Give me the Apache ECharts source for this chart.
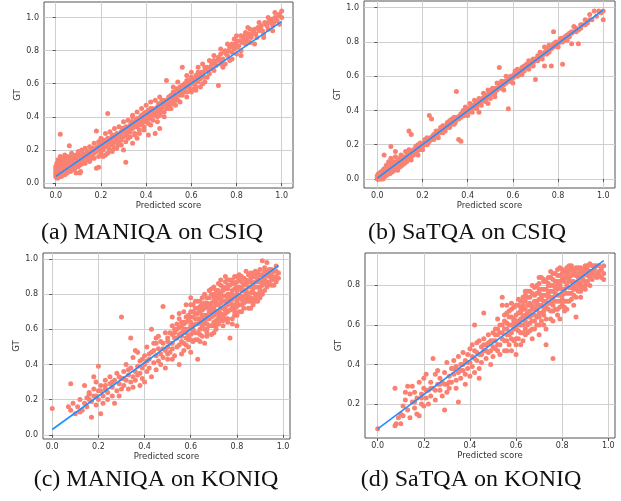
<!DOCTYPE html>
<html>
<head>
<meta charset="utf-8">
<script src="https://cdn.jsdelivr.net/npm/echarts@6/dist/echarts.min.js"></script>
<style>
  html, body { margin: 0; padding: 0; background: #fff; }
  #chart { width: 621px; height: 501px; }
</style>
</head>
<body>
<div id="chart"></div>
<script>
// (a) MANIQA on CSIQ: [predicted, GT]
const maniqaCsiq = [
  [0.0,0.04],[0.0,0.07],[0.0,0.1],[0.005,0.05],[0.005,0.12],[0.01,0.03],[0.01,0.08],[0.01,0.14],[0.015,0.06],[0.015,0.1],
  [0.02,0.05],[0.02,0.12],[0.02,0.16],[0.025,0.08],[0.025,0.11],[0.03,0.06],[0.03,0.13],[0.03,0.15],[0.035,0.09],[0.04,0.07],
  [0.04,0.12],[0.04,0.17],[0.045,0.1],[0.05,0.06],[0.05,0.14],[0.05,0.16],[0.055,0.09],[0.06,0.11],[0.06,0.15],[0.065,0.07],
  [0.07,0.13],[0.07,0.18],[0.075,0.1],[0.08,0.08],[0.08,0.15],[0.085,0.12],[0.09,0.06],[0.09,0.17],[0.095,0.14],[0.1,0.1],
  [0.1,0.19],[0.105,0.13],[0.11,0.16],[0.11,0.07],[0.115,0.2],[0.02,0.295],[0.06,0.225],[0.18,0.09],[0.19,0.095],[0.107,0.06],
  [0.12,0.14],[0.12,0.18],[0.13,0.12],[0.13,0.21],[0.14,0.16],[0.14,0.19],[0.15,0.13],[0.15,0.22],[0.16,0.17],[0.16,0.2],
  [0.17,0.15],[0.17,0.24],[0.18,0.19],[0.18,0.21],[0.19,0.16],[0.19,0.25],[0.2,0.18],[0.2,0.23],[0.21,0.2],[0.21,0.26],
  [0.22,0.17],[0.22,0.24],[0.23,0.22],[0.23,0.27],[0.24,0.2],[0.24,0.25],[0.25,0.23],[0.25,0.29],[0.26,0.21],[0.26,0.27],
  [0.27,0.25],[0.27,0.3],[0.28,0.24],[0.28,0.28],[0.29,0.31],[0.29,0.26],[0.3,0.28],[0.3,0.33],[0.18,0.315],[0.23,0.42],
  [0.31,0.125],[0.3,0.2],[0.31,0.3],[0.31,0.34],[0.32,0.27],[0.32,0.32],[0.33,0.35],[0.33,0.31],[0.34,0.33],[0.34,0.37],
  [0.35,0.3],[0.35,0.36],[0.36,0.34],[0.36,0.39],[0.37,0.32],[0.37,0.37],[0.38,0.36],[0.38,0.41],[0.39,0.34],[0.39,0.39],
  [0.4,0.38],[0.4,0.43],[0.41,0.36],[0.41,0.41],[0.42,0.4],[0.42,0.45],[0.43,0.38],[0.43,0.43],[0.44,0.42],[0.44,0.3],
  [0.45,0.4],[0.45,0.46],[0.46,0.44],[0.46,0.41],[0.47,0.46],[0.47,0.5],[0.48,0.43],[0.48,0.48],[0.49,0.47],[0.49,0.62],
  [0.5,0.49],[0.5,0.45],[0.34,0.24],[0.41,0.29],[0.46,0.33],[0.34,0.4],[0.36,0.27],
  [0.51,0.5],[0.51,0.53],[0.52,0.48],[0.52,0.55],[0.53,0.52],[0.54,0.56],[0.54,0.5],[0.55,0.54],[0.55,0.58],[0.56,0.53],
  [0.56,0.7],[0.57,0.56],[0.57,0.6],[0.58,0.55],[0.58,0.62],[0.59,0.58],[0.6,0.6],[0.6,0.64],[0.61,0.57],[0.61,0.62],
  [0.62,0.65],[0.63,0.61],[0.63,0.67],[0.64,0.63],[0.65,0.66],[0.65,0.6],[0.66,0.68],[0.67,0.64],[0.67,0.7],[0.68,0.66],
  [0.69,0.72],[0.7,0.68],[0.7,0.74],[0.72,0.59],[0.62,0.58],
  [0.71,0.71],[0.72,0.76],[0.73,0.72],[0.73,0.78],[0.74,0.75],[0.75,0.8],[0.75,0.72],[0.76,0.77],[0.77,0.82],[0.77,0.74],
  [0.78,0.79],[0.78,0.84],[0.79,0.81],[0.8,0.86],[0.8,0.78],[0.81,0.83],[0.82,0.8],[0.83,0.87],[0.84,0.84],[0.84,0.91],
  [0.85,0.88],[0.86,0.85],[0.87,0.9],[0.88,0.93],[0.89,0.88],[0.9,0.92],[0.91,0.95],[0.92,0.9],[0.93,0.96],[0.94,0.93],
  [0.95,0.97],[0.96,0.95],[0.97,1.0],[0.98,0.98],[0.99,1.02],[1.0,1.0],[1.0,1.04],[0.97,1.03],[0.8,0.89],[0.85,0.94],
  [0.0,0.055],[0.0,0.085],[0.005,0.03],[0.005,0.09],[0.01,0.05],[0.01,0.11],[0.015,0.04],[0.015,0.13],[0.02,0.07],[0.02,0.09],
  [0.025,0.04],[0.025,0.14],[0.03,0.1],[0.035,0.05],[0.035,0.12],[0.04,0.05],[0.04,0.09],[0.045,0.13],[0.045,0.15],[0.05,0.08],
  [0.05,0.11],[0.055,0.12],[0.06,0.08],[0.06,0.13],[0.065,0.1],[0.065,0.16],[0.07,0.09],[0.075,0.12],[0.075,0.15],[0.08,0.11],
  [0.085,0.09],[0.085,0.16],[0.09,0.12],[0.095,0.1],[0.1,0.12],[0.1,0.15],[0.105,0.17],[0.11,0.11],[0.115,0.14],[0.12,0.16],
  [0.125,0.12],[0.13,0.17],[0.135,0.15],[0.14,0.14],[0.145,0.18],[0.15,0.17],[0.155,0.19],[0.16,0.15],[0.165,0.21],[0.17,0.18],
  [0.175,0.2],[0.185,0.22],[0.19,0.2],[0.195,0.23],[0.2,0.21],[0.205,0.25],[0.21,0.23],[0.215,0.22],[0.225,0.26],[0.23,0.24],
  [0.235,0.21],[0.245,0.27],[0.25,0.26],[0.255,0.24],[0.265,0.29],[0.27,0.27],[0.275,0.23],[0.285,0.3],[0.29,0.28],[0.295,0.33],
  [0.305,0.31],[0.315,0.29],[0.325,0.34],[0.33,0.33],[0.335,0.37],[0.345,0.35],[0.35,0.34],[0.355,0.38],[0.365,0.37],[0.37,0.35],
  [0.375,0.4],[0.385,0.38],[0.39,0.42],[0.395,0.37],[0.405,0.41],[0.41,0.44],[0.415,0.39],[0.425,0.42],[0.43,0.45],[0.435,0.41],
  [0.445,0.44],[0.45,0.43],[0.455,0.48],[0.465,0.45],[0.47,0.43],[0.475,0.48],[0.485,0.5],[0.49,0.45],[0.5,0.52],[0.505,0.47],
  [0.515,0.51],[0.525,0.54],[0.53,0.5],[0.535,0.57],[0.545,0.53],[0.55,0.56],[0.56,0.59],[0.565,0.55],[0.575,0.58],[0.585,0.6],
  [0.59,0.62],[0.595,0.56],[0.605,0.62],[0.615,0.6],[0.62,0.62],[0.625,0.64],[0.635,0.65],[0.645,0.67],[0.655,0.64],[0.66,0.7],
  [0.675,0.68],[0.685,0.7],[0.695,0.69],[0.705,0.73],[0.715,0.74],[0.725,0.75],[0.735,0.74],[0.745,0.79],[0.755,0.78],[0.765,0.8],
  [0.785,0.82],[0.795,0.84],[0.805,0.82],[0.815,0.86],[0.825,0.85],[0.835,0.89],[0.845,0.86],[0.855,0.9],[0.865,0.88],[0.875,0.92],
  [0.885,0.9],[0.895,0.94],[0.905,0.93],[0.915,0.92],[0.925,0.97],[0.935,0.95],[0.945,0.98],[0.955,0.99],[0.965,0.97],[0.985,1.01],
  [0.2,0.27],[0.22,0.3],[0.24,0.31],[0.26,0.33],[0.28,0.34],[0.3,0.37],[0.32,0.38],[0.34,0.41],[0.36,0.43],[0.38,0.45],
  [0.4,0.47],[0.42,0.49],[0.44,0.5],[0.46,0.52],[0.21,0.16],[0.23,0.18],[0.25,0.19],[0.27,0.21],[0.29,0.23],[0.31,0.25],
  [0.33,0.28],[0.35,0.29],[0.37,0.3],[0.39,0.32],[0.42,0.35],[0.45,0.37],[0.48,0.4],[0.51,0.45],[0.53,0.47],[0.55,0.49],
  [0.58,0.52],[0.6,0.55],[0.62,0.56],[0.64,0.58],[0.66,0.61],[0.52,0.58],[0.54,0.61],[0.58,0.65],[0.6,0.67],[0.63,0.7],
  [0.65,0.72],[0.68,0.74],[0.7,0.77],[0.73,0.81],[0.76,0.84],[0.79,0.87],[0.82,0.89],[0.86,0.93],[0.9,0.97],[0.94,1.0],
  [0.74,0.7],[0.78,0.75],[0.82,0.77],[0.88,0.84],[0.92,0.88],[0.96,0.92],[0.99,0.96]
];

// (b) SaTQA on CSIQ
const satqaCsiq = [
  [0.0,0.0],[0.0,0.02],[0.005,0.01],[0.01,0.0],[0.01,0.03],[0.015,0.02],[0.02,0.01],[0.02,0.04],[0.025,0.02],[0.03,0.03],
  [0.03,0.06],[0.035,0.02],[0.04,0.04],[0.04,0.08],[0.045,0.03],[0.05,0.05],[0.05,0.1],[0.055,0.03],[0.06,0.06],[0.06,0.12],
  [0.065,0.04],[0.07,0.07],[0.07,0.1],[0.075,0.05],[0.08,0.08],[0.08,0.13],[0.085,0.06],[0.09,0.09],[0.09,0.05],[0.095,0.11],
  [0.1,0.07],[0.1,0.1],[0.105,0.14],[0.11,0.08],[0.11,0.12],[0.115,0.1],[0.12,0.09],[0.12,0.13],[0.125,0.16],[0.13,0.1],
  [0.13,0.13],[0.135,0.15],[0.14,0.12],[0.14,0.17],[0.145,0.14],[0.15,0.11],[0.15,0.15],[0.06,0.19],[0.03,0.14],[0.08,0.16],
  [0.16,0.15],[0.16,0.17],[0.17,0.16],[0.17,0.19],[0.18,0.17],[0.18,0.2],[0.19,0.18],[0.19,0.21],[0.2,0.2],[0.2,0.17],
  [0.21,0.21],[0.21,0.23],[0.22,0.2],[0.22,0.24],[0.23,0.22],[0.23,0.37],[0.24,0.24],[0.24,0.35],[0.25,0.23],[0.25,0.26],
  [0.26,0.25],[0.26,0.28],[0.27,0.27],[0.27,0.24],[0.28,0.28],[0.28,0.3],[0.29,0.27],[0.29,0.31],[0.3,0.3],[0.3,0.28],
  [0.31,0.31],[0.31,0.33],[0.32,0.3],[0.32,0.34],[0.33,0.33],[0.33,0.35],[0.34,0.32],[0.34,0.36],[0.35,0.35],[0.35,0.51],
  [0.36,0.23],[0.36,0.36],[0.37,0.22],[0.37,0.38],[0.38,0.37],[0.38,0.4],[0.39,0.38],[0.39,0.42],[0.4,0.4],[0.4,0.37],
  [0.14,0.28],[0.15,0.26],[0.18,0.14],
  [0.41,0.41],[0.41,0.44],[0.42,0.42],[0.42,0.39],[0.43,0.43],[0.43,0.46],[0.44,0.44],[0.44,0.41],[0.45,0.45],[0.45,0.47],
  [0.46,0.46],[0.46,0.43],[0.47,0.47],[0.47,0.5],[0.48,0.48],[0.48,0.45],[0.49,0.49],[0.49,0.52],[0.5,0.5],[0.5,0.47],
  [0.51,0.5],[0.51,0.53],[0.52,0.52],[0.52,0.48],[0.53,0.53],[0.53,0.56],[0.54,0.54],[0.54,0.65],[0.55,0.53],[0.55,0.57],
  [0.56,0.56],[0.56,0.52],[0.57,0.57],[0.57,0.6],[0.58,0.41],[0.58,0.58],[0.59,0.57],[0.59,0.6],[0.6,0.6],[0.6,0.56],
  [0.61,0.61],[0.61,0.63],[0.62,0.6],[0.62,0.64],[0.63,0.62],[0.64,0.65],[0.64,0.61],[0.65,0.66],[0.65,0.63],[0.66,0.67],
  [0.67,0.64],[0.67,0.69],[0.68,0.68],[0.69,0.66],[0.69,0.7],[0.7,0.58],[0.7,0.69],[0.45,0.39],[0.49,0.44],
  [0.71,0.72],[0.71,0.69],[0.72,0.71],[0.72,0.74],[0.73,0.73],[0.73,0.7],[0.74,0.74],[0.74,0.77],[0.74,0.66],[0.75,0.73],
  [0.75,0.76],[0.76,0.78],[0.76,0.74],[0.77,0.76],[0.77,0.66],[0.78,0.79],[0.78,0.86],[0.79,0.78],[0.8,0.8],[0.8,0.77],
  [0.81,0.82],[0.82,0.8],[0.82,0.67],[0.83,0.83],[0.84,0.81],[0.85,0.85],[0.86,0.79],[0.86,0.86],[0.87,0.89],[0.88,0.86],
  [0.89,0.79],[0.9,0.88],[0.91,0.9],[0.92,0.93],[0.93,0.91],[0.94,0.96],[0.95,0.93],[0.96,0.98],[0.97,0.95],[0.98,0.98],
  [0.99,0.97],[1.0,0.98],[1.0,0.93],[0.84,0.84],
  [0.0,0.01],[0.005,0.0],[0.005,0.03],[0.01,0.02],[0.015,0.0],[0.015,0.04],[0.02,0.02],[0.025,0.0],[0.025,0.05],[0.03,0.01],
  [0.035,0.04],[0.04,0.02],[0.04,0.06],[0.045,0.05],[0.05,0.03],[0.05,0.07],[0.055,0.06],[0.06,0.04],[0.06,0.09],[0.065,0.07],
  [0.07,0.05],[0.075,0.08],[0.08,0.06],[0.08,0.1],[0.085,0.09],[0.09,0.07],[0.095,0.08],[0.1,0.09],[0.1,0.12],[0.105,0.08],
  [0.11,0.1],[0.115,0.12],[0.12,0.11],[0.125,0.1],[0.13,0.12],[0.135,0.11],[0.14,0.14],[0.145,0.12],[0.15,0.13],[0.155,0.15],
  [0.16,0.14],[0.165,0.16],[0.17,0.17],[0.175,0.15],[0.18,0.18],[0.185,0.17],[0.19,0.19],[0.195,0.2],[0.2,0.19],[0.205,0.21],
  [0.21,0.2],[0.215,0.22],[0.22,0.22],[0.225,0.21],[0.23,0.23],[0.235,0.24],[0.24,0.23],[0.245,0.25],[0.25,0.25],[0.255,0.26],
  [0.26,0.26],[0.265,0.25],[0.27,0.28],[0.275,0.27],[0.28,0.27],[0.285,0.29],[0.29,0.29],[0.295,0.3],[0.3,0.31],[0.305,0.3],
  [0.31,0.3],[0.315,0.32],[0.32,0.32],[0.325,0.33],[0.33,0.32],[0.335,0.34],[0.34,0.34],[0.345,0.33],[0.35,0.36],[0.355,0.35],
  [0.36,0.35],[0.365,0.37],[0.37,0.36],[0.375,0.38],[0.38,0.38],[0.385,0.37],[0.39,0.39],[0.395,0.4],[0.4,0.39],[0.405,0.41],
  [0.41,0.4],[0.415,0.42],[0.42,0.41],[0.425,0.43],[0.43,0.42],[0.435,0.44],[0.44,0.43],[0.445,0.45],[0.45,0.44],[0.455,0.46],
  [0.46,0.45],[0.465,0.47],[0.47,0.46],[0.475,0.48],[0.48,0.47],[0.485,0.49],[0.49,0.48],[0.495,0.5],[0.5,0.49],[0.505,0.51],
  [0.51,0.51],[0.52,0.5],[0.525,0.53],[0.53,0.52],[0.54,0.53],[0.545,0.55],[0.55,0.55],[0.56,0.55],[0.565,0.57],[0.57,0.56],
  [0.58,0.57],[0.585,0.59],[0.59,0.59],[0.6,0.59],[0.605,0.61],[0.61,0.6],[0.62,0.62],[0.63,0.63],[0.635,0.61],[0.64,0.63],
  [0.65,0.65],[0.66,0.65],[0.665,0.67],[0.67,0.66],[0.68,0.67],[0.685,0.69],[0.69,0.68],[0.7,0.7],[0.71,0.7],[0.72,0.72],
  [0.73,0.72],[0.74,0.73],[0.75,0.75],[0.76,0.75],[0.77,0.77],[0.78,0.77],[0.79,0.8],[0.8,0.79],[0.81,0.8],[0.82,0.82],
  [0.83,0.81],[0.84,0.83],[0.85,0.83],[0.86,0.85],[0.87,0.86],[0.88,0.88],[0.89,0.87],[0.9,0.9],[0.92,0.9],[0.94,0.93]
];

// (c) MANIQA on KONIQ
const maniqaKoniq = [
  [0.0,0.15],[0.08,0.29],[0.07,0.16],[0.08,0.14],[0.09,0.18],[0.1,0.12],[0.11,0.16],[0.12,0.2],[0.13,0.14],[0.14,0.18],
  [0.14,0.28],[0.15,0.21],[0.15,0.16],[0.16,0.24],[0.17,0.1],[0.17,0.19],[0.18,0.26],[0.18,0.22],[0.19,0.17],[0.19,0.3],
  [0.2,0.39],[0.2,0.2],[0.2,0.25],[0.21,0.12],[0.21,0.28],[0.22,0.22],[0.22,0.18],[0.23,0.26],[0.23,0.31],[0.24,0.2],
  [0.24,0.24],[0.25,0.29],[0.25,0.33],[0.26,0.22],[0.26,0.27],[0.27,0.31],[0.27,0.18],[0.28,0.25],[0.28,0.35],[0.29,0.29],
  [0.29,0.22],[0.3,0.67],[0.3,0.32],[0.3,0.26],[0.16,0.23],[0.12,0.13],[0.18,0.33],
  [0.31,0.36],[0.31,0.28],[0.32,0.31],[0.32,0.4],[0.33,0.26],[0.33,0.34],[0.34,0.55],[0.34,0.3],[0.34,0.38],[0.35,0.33],
  [0.35,0.27],[0.35,0.44],[0.36,0.36],[0.36,0.31],[0.37,0.39],[0.37,0.47],[0.38,0.28],[0.38,0.35],[0.38,0.42],[0.39,0.38],
  [0.39,0.32],[0.4,0.45],[0.4,0.4],[0.4,0.3],[0.41,0.36],[0.41,0.5],[0.42,0.43],[0.42,0.38],[0.43,0.47],[0.43,0.33],
  [0.43,0.6],[0.44,0.41],[0.44,0.52],[0.45,0.45],[0.45,0.37],[0.46,0.49],[0.46,0.42],[0.46,0.56],[0.47,0.4],[0.47,0.46],
  [0.48,0.73],[0.48,0.52],[0.48,0.44],[0.49,0.48],[0.49,0.38],[0.49,0.58],[0.5,0.5],[0.5,0.43],[0.5,0.55],[0.36,0.48],
  [0.51,0.47],[0.51,0.58],[0.52,0.52],[0.52,0.62],[0.53,0.45],[0.53,0.55],[0.54,0.6],[0.54,0.5],[0.55,0.4],[0.55,0.57],
  [0.55,0.66],[0.56,0.53],[0.56,0.62],[0.57,0.48],[0.57,0.58],[0.57,0.7],[0.58,0.55],[0.58,0.64],[0.59,0.6],[0.59,0.5],
  [0.6,0.67],[0.6,0.57],[0.6,0.74],[0.61,0.62],[0.61,0.53],[0.62,0.66],[0.62,0.58],[0.62,0.72],[0.63,0.43],[0.63,0.63],
  [0.63,0.69],[0.64,0.6],[0.64,0.76],[0.65,0.66],[0.65,0.56],[0.65,0.71],[0.66,0.63],[0.66,0.68],[0.67,0.73],[0.67,0.6],
  [0.67,0.78],[0.68,0.66],[0.68,0.7],[0.69,0.62],[0.69,0.75],[0.7,0.68],[0.7,0.72],[0.7,0.8],[0.7,0.58],[0.52,0.67],
  [0.58,0.74],[0.61,0.7],[0.66,0.52],[0.6,0.47],[0.56,0.46],
  [0.71,0.74],[0.71,0.65],[0.72,0.7],[0.72,0.78],[0.72,0.82],[0.73,0.67],[0.73,0.75],[0.74,0.72],[0.74,0.79],[0.74,0.62],
  [0.75,0.76],[0.75,0.83],[0.75,0.69],[0.76,0.74],[0.76,0.8],[0.77,0.55],[0.77,0.71],[0.77,0.85],[0.78,0.77],[0.78,0.82],
  [0.78,0.66],[0.79,0.74],[0.79,0.86],[0.8,0.62],[0.8,0.8],[0.8,0.76],[0.81,0.84],[0.81,0.7],[0.82,0.79],[0.82,0.87],
  [0.83,0.75],[0.83,0.82],[0.84,0.88],[0.84,0.78],[0.85,0.84],[0.85,0.72],[0.86,0.81],[0.86,0.89],[0.87,0.86],[0.87,0.77],
  [0.88,0.84],[0.88,0.9],[0.89,0.8],[0.89,0.87],[0.9,0.91],[0.9,0.84],[0.91,0.99],[0.91,0.88],[0.92,0.82],[0.92,0.93],
  [0.93,0.98],[0.93,0.87],[0.94,0.9],[0.95,0.85],[0.95,0.94],[0.96,0.85],[0.97,0.9],[0.98,0.92],[0.97,0.96],[0.76,0.88],
  [0.8,0.9],[0.84,0.93],[0.73,0.85],[0.79,0.7],[0.86,0.76],[0.9,0.78],
  [0.5,0.53],[0.51,0.52],[0.52,0.57],[0.53,0.6],[0.54,0.55],[0.55,0.61],[0.56,0.58],[0.57,0.63],[0.58,0.6],[0.59,0.65],
  [0.6,0.62],[0.61,0.58],[0.61,0.67],[0.62,0.63],[0.63,0.66],[0.63,0.58],[0.64,0.64],[0.64,0.7],[0.65,0.62],[0.65,0.68],
  [0.66,0.72],[0.66,0.65],[0.67,0.68],[0.67,0.63],[0.68,0.74],[0.68,0.71],[0.69,0.67],[0.69,0.7],[0.7,0.76],[0.7,0.64],
  [0.71,0.7],[0.71,0.78],[0.72,0.74],[0.72,0.66],[0.73,0.72],[0.73,0.8],[0.74,0.76],[0.74,0.68],[0.75,0.79],[0.75,0.73],
  [0.76,0.83],[0.76,0.77],[0.76,0.7],[0.77,0.8],[0.77,0.75],[0.78,0.86],[0.78,0.72],[0.79,0.79],[0.79,0.83],[0.8,0.84],
  [0.8,0.73],[0.81,0.78],[0.81,0.88],[0.82,0.82],[0.82,0.74],[0.83,0.85],[0.83,0.79],[0.84,0.82],[0.84,0.76],[0.85,0.87],
  [0.85,0.8],[0.86,0.84],[0.86,0.78],[0.87,0.83],[0.87,0.9],[0.88,0.87],[0.88,0.8],[0.89,0.84],[0.89,0.92],[0.9,0.87],
  [0.91,0.85],[0.91,0.91],[0.92,0.88],[0.93,0.91],[0.94,0.86],[0.94,0.94],[0.96,0.89],[0.97,0.93],[0.98,0.89],[0.95,0.88],
  [0.62,0.69],[0.66,0.75],[0.7,0.78],[0.74,0.84],[0.78,0.88],[0.82,0.9],[0.72,0.86],[0.68,0.78],[0.64,0.73],[0.6,0.7],
  [0.58,0.67],[0.56,0.64],[0.54,0.63],[0.57,0.52],[0.6,0.54],[0.64,0.57],[0.67,0.58],[0.7,0.62],[0.73,0.65],[0.76,0.66],
  [0.79,0.68],[0.82,0.7],[0.85,0.76],[0.88,0.76],[0.92,0.86],[0.86,0.92],[0.8,0.87],[0.75,0.87],[0.71,0.82],[0.69,0.8],
  [0.42,0.46],[0.44,0.48],[0.45,0.52],[0.47,0.53],[0.48,0.49],[0.5,0.46],[0.52,0.49],[0.53,0.58],[0.45,0.55],[0.41,0.42],
  [0.39,0.43],[0.37,0.34],[0.33,0.37],[0.31,0.32],[0.29,0.33],[0.26,0.3],[0.23,0.28],[0.21,0.25],[0.19,0.22],[0.16,0.2],
  [0.52,0.43],[0.55,0.51],[0.57,0.64],[0.59,0.56],
  [0.55,0.69],[0.56,0.56],[0.57,0.6],[0.58,0.58],[0.59,0.68],[0.59,0.54],[0.6,0.64],[0.61,0.74],[0.61,0.6],[0.62,0.54],
  [0.62,0.76],[0.63,0.72],[0.64,0.66],[0.64,0.53],[0.65,0.78],[0.65,0.64],[0.66,0.6],[0.66,0.8],[0.67,0.66],[0.67,0.75],
  [0.68,0.62],[0.68,0.82],[0.69,0.73],[0.69,0.57],[0.7,0.7],[0.7,0.84],[0.71,0.76],[0.71,0.62],[0.72,0.8],[0.72,0.63],
  [0.73,0.69],[0.73,0.77],[0.73,0.88],[0.74,0.82],[0.74,0.65],[0.75,0.71],[0.75,0.9],[0.76,0.85],[0.76,0.64],[0.77,0.78],
  [0.77,0.88],[0.78,0.74],[0.78,0.8],[0.79,0.72],[0.79,0.9],[0.8,0.82],[0.8,0.78],[0.81,0.74],[0.81,0.91],[0.82,0.84],
  [0.82,0.77],[0.83,0.89],[0.83,0.72],[0.84,0.86],[0.84,0.8],[0.85,0.91],[0.85,0.78],[0.86,0.87],[0.86,0.72],[0.87,0.92],
  [0.87,0.81],[0.88,0.78],[0.88,0.93],[0.89,0.89],[0.89,0.76],[0.9,0.82],[0.9,0.94],[0.91,0.86],[0.91,0.8],[0.92,0.9],
  [0.92,0.95],[0.93,0.84],[0.94,0.92],[0.95,0.91],[0.96,0.93],[0.97,0.87],[0.65,0.74],[0.69,0.83],[0.63,0.76],[0.6,0.78],
  [0.67,0.56],[0.63,0.54],[0.72,0.68],[0.75,0.66],[0.8,0.68],[0.83,0.77],[0.87,0.74],[0.78,0.63],[0.71,0.6],[0.58,0.51]
];

// (d) SaTQA on KONIQ
const satqaKoniq = [
  [0.0,0.075],[0.075,0.09],[0.08,0.1],[0.075,0.28],[0.09,0.13],[0.1,0.15],[0.1,0.1],[0.11,0.19],[0.11,0.14],[0.12,0.22],
  [0.12,0.26],[0.13,0.17],[0.14,0.13],[0.14,0.25],[0.15,0.21],[0.15,0.29],[0.16,0.18],[0.16,0.26],[0.17,0.23],[0.17,0.15],
  [0.18,0.31],[0.18,0.14],[0.19,0.25],[0.19,0.2],[0.2,0.28],[0.2,0.33],[0.2,0.19],[0.21,0.23],[0.21,0.35],[0.22,0.2],
  [0.22,0.27],[0.23,0.31],[0.23,0.24],[0.24,0.43],[0.24,0.28],[0.25,0.35],[0.25,0.22],[0.26,0.3],[0.26,0.37],[0.27,0.27],
  [0.27,0.33],[0.28,0.24],[0.28,0.31],[0.29,0.17],[0.29,0.36],[0.3,0.3],[0.3,0.41],[0.3,0.26],[0.13,0.29],[0.16,0.21],
  [0.31,0.34],[0.31,0.28],[0.32,0.38],[0.32,0.31],[0.33,0.35],[0.33,0.42],[0.34,0.32],[0.34,0.39],[0.35,0.21],[0.35,0.36],
  [0.35,0.44],[0.36,0.33],[0.36,0.4],[0.37,0.37],[0.37,0.46],[0.38,0.3],[0.38,0.42],[0.39,0.38],[0.39,0.45],[0.4,0.34],
  [0.4,0.41],[0.4,0.48],[0.41,0.39],[0.41,0.44],[0.42,0.6],[0.42,0.36],[0.42,0.47],[0.43,0.42],[0.43,0.51],[0.44,0.38],
  [0.44,0.45],[0.45,0.49],[0.45,0.41],[0.46,0.66],[0.46,0.47],[0.46,0.53],[0.47,0.43],[0.47,0.5],[0.48,0.55],[0.48,0.46],
  [0.49,0.52],[0.49,0.4],[0.5,0.49],[0.5,0.56],[0.5,0.44],[0.38,0.35],[0.34,0.28],[0.44,0.33],
  [0.51,0.52],[0.51,0.58],[0.52,0.47],[0.52,0.55],[0.53,0.6],[0.53,0.5],[0.54,0.74],[0.54,0.7],[0.54,0.56],[0.55,0.52],
  [0.55,0.62],[0.56,0.58],[0.56,0.47],[0.57,0.64],[0.57,0.55],[0.58,0.6],[0.58,0.68],[0.59,0.52],[0.59,0.63],[0.6,0.58],
  [0.6,0.7],[0.6,0.5],[0.61,0.62],[0.61,0.66],[0.62,0.56],[0.62,0.72],[0.63,0.64],[0.63,0.6],[0.64,0.68],[0.64,0.55],
  [0.65,0.66],[0.65,0.74],[0.66,0.61],[0.66,0.7],[0.67,0.65],[0.67,0.76],[0.68,0.68],[0.68,0.58],[0.69,0.72],[0.69,0.64],
  [0.7,0.7],[0.7,0.78],[0.7,0.6],[0.52,0.63],[0.56,0.66],[0.6,0.45],[0.64,0.77],[0.58,0.47],
  [0.71,0.73],[0.71,0.66],[0.72,0.75],[0.72,0.69],[0.73,0.5],[0.73,0.78],[0.73,0.63],[0.74,0.71],[0.74,0.81],[0.75,0.74],
  [0.75,0.67],[0.76,0.43],[0.76,0.77],[0.76,0.83],[0.77,0.72],[0.77,0.79],[0.78,0.65],[0.78,0.82],[0.79,0.75],[0.79,0.85],
  [0.8,0.78],[0.8,0.7],[0.81,0.82],[0.81,0.87],[0.82,0.76],[0.82,0.8],[0.83,0.84],[0.83,0.72],[0.84,0.79],[0.84,0.88],
  [0.85,0.82],[0.85,0.75],[0.86,0.64],[0.86,0.85],[0.87,0.8],[0.87,0.89],[0.88,0.84],[0.88,0.77],[0.89,0.87],[0.9,0.82],
  [0.9,0.89],[0.91,0.85],[0.92,0.91],[0.92,0.87],[0.93,0.83],[0.94,0.88],[0.95,0.86],[0.96,0.9],[0.97,0.84],[0.98,0.86],
  [0.95,0.9],[0.78,0.88],[0.72,0.82],[0.81,0.67],[0.9,0.78],[0.76,0.7],
  [0.5,0.52],[0.51,0.55],[0.52,0.5],[0.53,0.56],[0.54,0.53],[0.55,0.58],[0.56,0.55],[0.57,0.6],[0.58,0.56],[0.59,0.62],
  [0.6,0.6],[0.6,0.65],[0.61,0.57],[0.61,0.7],[0.62,0.63],[0.62,0.6],[0.63,0.68],[0.63,0.56],[0.64,0.62],[0.64,0.72],
  [0.65,0.64],[0.65,0.6],[0.66,0.67],[0.66,0.74],[0.67,0.62],[0.67,0.7],[0.68,0.72],[0.68,0.65],[0.69,0.68],[0.69,0.76],
  [0.7,0.66],[0.7,0.73],[0.71,0.7],[0.71,0.78],[0.72,0.72],[0.72,0.65],[0.73,0.75],[0.73,0.69],[0.74,0.77],[0.74,0.74],
  [0.75,0.71],[0.75,0.8],[0.76,0.74],[0.76,0.67],[0.77,0.82],[0.77,0.76],[0.78,0.78],[0.78,0.72],[0.79,0.8],[0.79,0.69],
  [0.8,0.83],[0.8,0.75],[0.81,0.78],[0.81,0.72],[0.82,0.84],[0.82,0.86],[0.83,0.79],[0.83,0.76],[0.84,0.82],[0.84,0.85],
  [0.85,0.78],[0.85,0.88],[0.86,0.81],[0.86,0.74],[0.87,0.84],[0.87,0.77],[0.88,0.87],[0.88,0.81],[0.89,0.83],[0.89,0.79],
  [0.9,0.86],[0.91,0.88],[0.91,0.82],[0.92,0.84],[0.93,0.87],[0.93,0.9],[0.94,0.85],[0.96,0.87],[0.97,0.88],[0.98,0.83],
  [0.62,0.67],[0.66,0.71],[0.7,0.76],[0.74,0.8],[0.78,0.85],[0.82,0.88],[0.86,0.89],[0.9,0.9],[0.68,0.79],[0.72,0.83],
  [0.58,0.64],[0.56,0.61],[0.54,0.6],[0.57,0.5],[0.6,0.53],[0.63,0.52],[0.66,0.57],[0.69,0.6],[0.72,0.6],[0.75,0.63],
  [0.78,0.68],[0.81,0.69],[0.84,0.73],[0.88,0.74],[0.92,0.8],[0.76,0.86],[0.8,0.88],[0.64,0.75],[0.7,0.81],[0.74,0.84],
  [0.42,0.43],[0.43,0.46],[0.45,0.45],[0.46,0.5],[0.47,0.47],[0.48,0.51],[0.49,0.47],[0.51,0.48],[0.52,0.58],[0.53,0.45],
  [0.55,0.47],[0.39,0.41],[0.37,0.4],[0.36,0.37],[0.33,0.38],[0.31,0.31],[0.29,0.3],[0.27,0.3],[0.25,0.27],[0.23,0.28],
  [0.21,0.27],[0.19,0.23],[0.44,0.52],[0.41,0.5],
  [0.55,0.65],[0.56,0.52],[0.57,0.67],[0.58,0.53],[0.59,0.58],[0.59,0.69],[0.6,0.62],[0.61,0.53],[0.61,0.6],[0.62,0.69],
  [0.62,0.66],[0.63,0.7],[0.63,0.74],[0.64,0.58],[0.64,0.65],[0.65,0.7],[0.65,0.56],[0.66,0.64],[0.66,0.77],[0.67,0.68],
  [0.67,0.58],[0.68,0.75],[0.68,0.62],[0.69,0.7],[0.69,0.8],[0.7,0.64],[0.7,0.84],[0.71,0.75],[0.71,0.62],[0.72,0.78],
  [0.72,0.67],[0.73,0.72],[0.73,0.82],[0.74,0.68],[0.74,0.76],[0.75,0.77],[0.75,0.84],[0.76,0.72],[0.76,0.8],[0.77,0.68],
  [0.77,0.86],[0.78,0.75],[0.78,0.8],[0.79,0.72],[0.79,0.82],[0.8,0.73],[0.8,0.86],[0.81,0.76],[0.81,0.84],[0.82,0.72],
  [0.82,0.89],[0.83,0.82],[0.83,0.87],[0.84,0.76],[0.84,0.9],[0.85,0.8],[0.85,0.86],[0.86,0.78],[0.86,0.88],[0.87,0.82],
  [0.87,0.86],[0.88,0.79],[0.88,0.89],[0.89,0.85],[0.9,0.8],[0.9,0.87],[0.91,0.9],[0.92,0.85],[0.93,0.86],[0.94,0.9],
  [0.95,0.84],[0.96,0.85],[0.98,0.9],[0.85,0.7],[0.82,0.68],[0.79,0.63],[0.76,0.62],[0.73,0.58],[0.7,0.55],[0.67,0.53],
  [0.65,0.77],[0.67,0.8],[0.71,0.84],[0.75,0.87],[0.79,0.89],[0.83,0.9],[0.61,0.73],[0.58,0.71],[0.56,0.7],[0.62,0.5]
];

// fitted lines (start, end)
const fitManiqaCsiq = [[0.0, 0.04], [1.0, 0.977]];
const fitSatqaCsiq = [[0.0, 0.005], [1.0, 0.987]];
const fitManiqaKoniq = [[0.0, 0.03], [0.98, 0.962]];
const fitSatqaKoniq = [[0.0, 0.074], [0.98, 0.925]];

const ticksFull = [0, 0.2, 0.4, 0.6, 0.8, 1.0];
const ticksSatqaKoniqY = [0.2, 0.4, 0.6, 0.8];

const captions = ['(a) MANIQA on CSIQ', '(b) SaTQA on CSIQ', '(c) MANIQA on KONIQ', '(d) SaTQA on KONIQ'];

const panels = [
  { pts: maniqaCsiq, fit: fitManiqaCsiq, yTicks: ticksFull,
    grid: { left: 44, top: 2, width: 249, height: 186 }, x: [-0.052, 1.05], y: [-0.03, 1.094], cap: [152, 233] },
  { pts: satqaCsiq, fit: fitSatqaCsiq, yTicks: ticksFull,
    grid: { left: 364, top: 1, width: 251, height: 187 }, x: [-0.059, 1.052], y: [-0.053, 1.039], cap: [467, 233] },
  { pts: maniqaKoniq, fit: fitManiqaKoniq, yTicks: ticksFull,
    grid: { left: 43, top: 253, width: 247, height: 186 }, x: [-0.04, 1.03], y: [-0.024, 1.034], cap: [156, 480] },
  { pts: satqaKoniq, fit: fitSatqaKoniq, yTicks: ticksSatqaKoniqY,
    grid: { left: 365, top: 253, width: 250, height: 185 }, x: [-0.055, 1.029], y: [0.028, 0.964], cap: [471, 480] },
];

const frameColor = '#555';
const gridColor = '#cfcfcf';
const labelStyle = { color: '#333', fontSize: 8, fontFamily: 'DejaVu Sans' };

const chart = echarts.init(document.getElementById('chart'), null, { renderer: 'canvas' });

const grids = [], xAxes = [], yAxes = [], series = [], graphics = [];
panels.forEach((p, i) => {
  grids.push(Object.assign({ show: true, borderColor: frameColor, borderWidth: 1, backgroundColor: '#fff' }, p.grid));
  xAxes.push({
    type: 'value', gridIndex: i, min: p.x[0], max: p.x[1],
    name: 'Predicted score', nameLocation: 'middle', nameGap: 13,
    nameTextStyle: { color: '#333', fontSize: 8.5, fontFamily: 'DejaVu Sans' },
    axisLine: { show: false },
    axisTick: { show: true, length: 3, customValues: ticksFull, lineStyle: { color: frameColor } },
    axisLabel: Object.assign({ customValues: ticksFull, margin: 4, formatter: (v) => v.toFixed(1) }, labelStyle),
    splitLine: { show: true, lineStyle: { color: gridColor, width: 1 } },
  });
  yAxes.push({
    type: 'value', gridIndex: i, min: p.y[0], max: p.y[1],
    name: 'GT', nameLocation: 'middle', nameGap: 12,
    nameTextStyle: { color: '#333', fontSize: 8.5, fontFamily: 'DejaVu Sans' },
    axisLine: { show: false },
    axisTick: { show: true, length: 3, customValues: p.yTicks, lineStyle: { color: frameColor } },
    axisLabel: Object.assign({ customValues: p.yTicks, margin: 5, formatter: (v) => v.toFixed(1) }, labelStyle),
    splitLine: { show: true, lineStyle: { color: gridColor, width: 1 } },
  });
  series.push({
    type: 'scatter', xAxisIndex: i, yAxisIndex: i, data: p.pts,
    symbolSize: 5, itemStyle: { color: '#FA8072', opacity: 1 }, silent: true, animation: false,
  });
  series.push({
    type: 'line', xAxisIndex: i, yAxisIndex: i, data: p.fit, showSymbol: false,
    lineStyle: { color: '#1E90FF', width: 1.6 }, silent: true, animation: false,
  });
  graphics.push({
    type: 'text', x: p.cap[0], y: p.cap[1],
    style: { text: captions[i], fill: '#111', font: '24px "Liberation Serif"', align: 'center', verticalAlign: 'middle' },
  });
});

chart.setOption({
  animation: false,
  backgroundColor: '#fff',
  grid: grids,
  xAxis: xAxes,
  yAxis: yAxes,
  series: series,
  graphic: graphics,
});
</script>
</body>
</html>
